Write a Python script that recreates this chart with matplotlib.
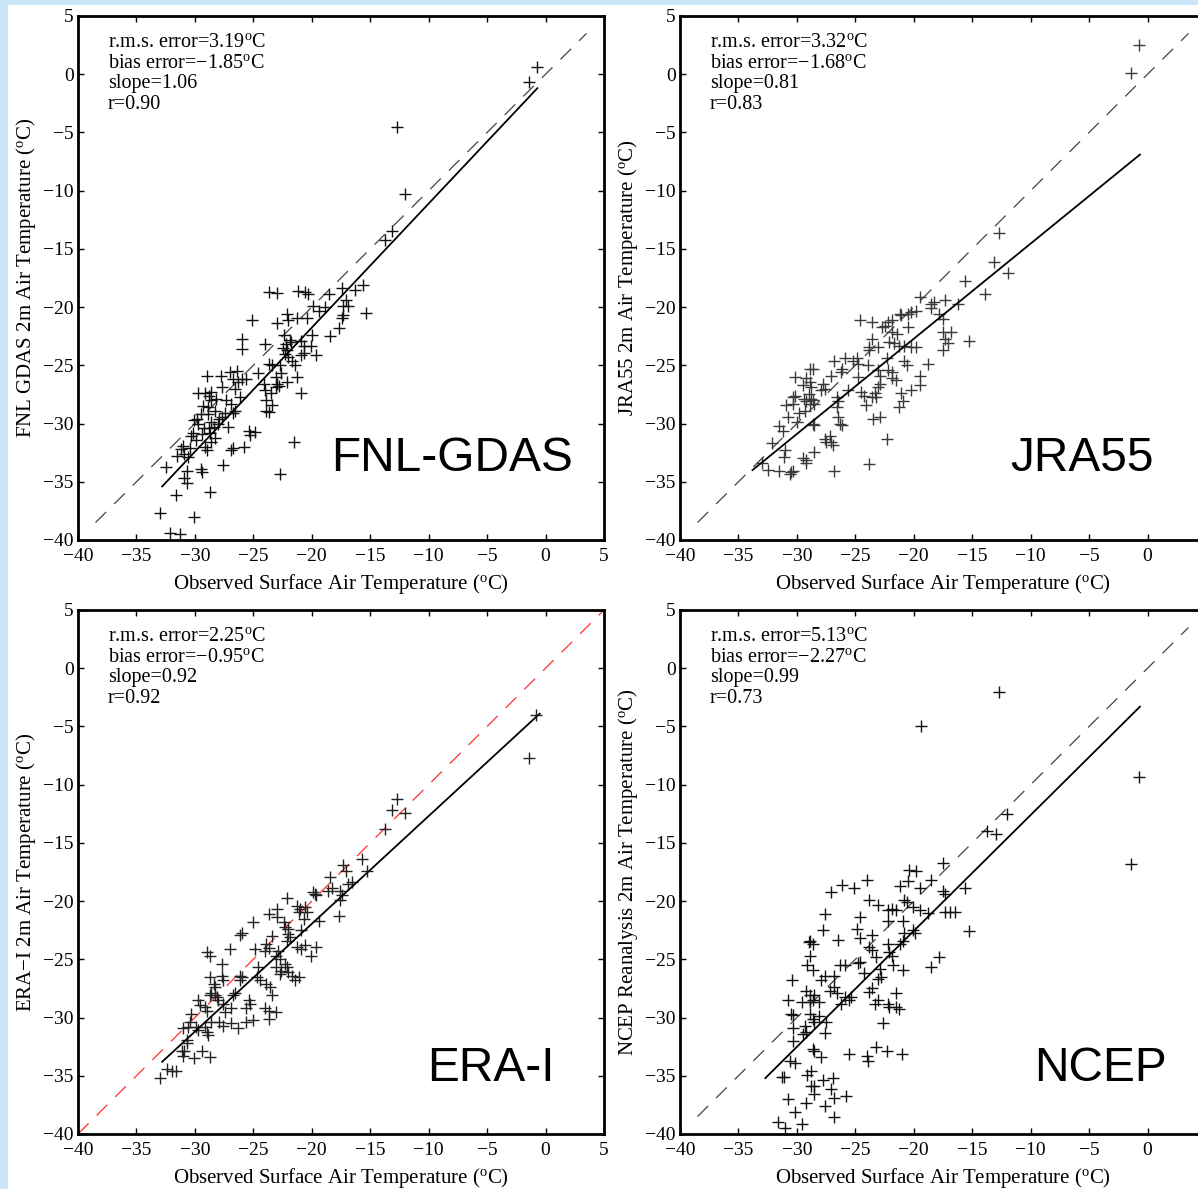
import numpy as np
import matplotlib.pyplot as plt
from matplotlib.patches import Rectangle

plt.rcParams['font.family'] = ['Liberation Serif', 'DejaVu Serif']
plt.rcParams['mathtext.fontset'] = 'custom'
plt.rcParams['mathtext.rm'] = 'Liberation Serif'
plt.rcParams['mathtext.it'] = 'Liberation Serif:italic'

fnl_obs = [-33.0, -32.1, -31.3, -31.6, -30.1, -28.7, -32.5, -30.7, -29.5, -29.4, -30.9, -30.7, -27.6,
           -31.0, -30.4, -30.3, -30.9, -30.1, -29.7, -29.4, -29.1, -29.0, -28.6, -28.7, -28.3, -28.6,
           -28.9, -29.0, -29.7, -29.1, -28.6, -28.6, -28.9, -28.3, -27.8, -27.0, -27.7, -26.7, -26.3,
           -26.0, -25.6, -26.6, -26.1, -26.9, -26.6, -26.7, -27.4, -27.7, -28.0, -27.2, -26.0, -26.0,
           -25.1, -25.4, -25.3, -24.9, -25.8, -26.9, -26.7, -24.6, -24.0, -23.7, -23.0, -23.0, -23.7,
           -23.4, -24.1, -24.0, -23.9, -23.9, -23.7, -23.4, -23.1, -23.0, -23.1, -22.7, -22.6, -22.4,
           -22.3, -22.1, -22.0, -21.7, -22.1, -22.1, -22.0, -21.4, -21.3, -20.9, -21.5, -22.7, -21.2,
           -20.6, -20.3, -21.3, -20.4, -20.9, -20.7, -20.7, -20.9, -20.0, -20.1, -19.6, -19.9, -19.4,
           -18.9, -18.5, -18.4, -17.7, -17.4, -17.1, -17.3, -17.3, -17.4, -16.9, -16.3, -15.6, -15.4,
           -13.7, -13.1, -12.0, -12.7, -1.4, -0.7,
           -29.8, -29.2, -28.8, -28.4, -27.9, -29.3, -28.8, -27.3, -26.4, -22.5, -22.2, -21.9, -22.8,
           -23.5, -21.8, -30.6, -30.2, -29.9, -29.5, -28.2, -31.2, -31.5]
fnl_mod = [-37.7, -39.4, -39.5, -36.1, -38.0, -35.9, -33.7, -34.1, -33.9, -34.2, -34.7, -35.1, -33.6,
           -31.9, -32.1, -31.1, -32.6, -29.7, -30.0, -30.9, -32.0, -32.3, -31.6, -30.8, -31.2, -29.9,
           -29.2, -25.9, -27.4, -27.4, -27.3, -28.0, -28.6, -28.9, -25.9, -25.6, -26.9, -26.2, -26.4,
           -26.2, -26.2, -27.0, -27.7, -28.3, -28.9, -29.1, -29.1, -29.4, -30.0, -30.3, -22.7, -23.6,
           -21.1, -30.6, -31.0, -30.7, -32.0, -32.3, -32.1, -25.7, -23.2, -18.7, -18.8, -21.4, -24.9,
           -25.0, -26.6, -27.1, -28.0, -28.9, -29.0, -28.4, -26.0, -26.6, -26.9, -25.0, -25.7, -22.4,
           -24.0, -23.7, -24.3, -24.6, -26.4, -20.6, -21.1, -25.0, -26.0, -27.4, -31.6, -34.3, -18.6,
           -18.7, -18.9, -20.9, -20.9, -22.9, -23.3, -23.9, -24.1, -22.4, -23.3, -24.1, -19.9, -20.3,
           -20.0, -18.9, -22.5, -21.8, -18.4, -19.4, -19.9, -20.7, -20.9, -19.9, -18.5, -18.1, -20.5,
           -14.2, -13.5, -10.3, -4.5, -0.7, 0.6,
           -29.6, -30.4, -30.4, -30.3, -29.6, -28.5, -27.6, -28.0, -25.5, -23.5, -23.2, -22.8, -26.8,
           -27.4, -23.0, -32.9, -30.8, -31.4, -29.2, -27.9, -32.2, -32.8]

jra_obs = [-33.0, -32.5, -31.5, -30.6, -30.5, -30.3, -32.1, -31.2, -30.8, -31.0, -31.1, -30.2, -30.2,
           -30.3, -30.9, -30.3, -29.8, -29.3, -29.5, -29.2, -28.9, -28.6, -28.9, -28.8, -29.5, -29.2,
           -29.2, -28.5, -28.6, -28.5, -28.8, -28.6, -28.5, -28.9, -29.2, -27.6, -27.5, -27.2, -27.1,
           -26.9, -26.8, -27.8, -27.6, -27.9, -27.1, -26.8, -25.9, -26.1, -26.2, -26.6, -26.5, -26.6,
           -26.5, -26.3, -26.1, -25.6, -25.2, -24.9, -24.8, -24.8, -24.5, -24.3, -24.6, -23.6, -23.8,
           -23.8, -23.9, -23.6, -23.1, -24.1, -23.6, -23.3, -23.2, -23.5, -22.9, -23.8, -22.3, -23.1,
           -22.9, -23.1, -22.9, -22.7, -22.5, -22.2, -21.9, -22.3, -22.2, -21.9, -21.9, -21.9, -21.4,
           -22.1, -21.7, -21.3, -21.5, -21.3, -21.1, -20.9, -21.2, -21.1, -20.5, -20.2, -19.8, -20.5,
           -20.8, -20.2, -19.8, -20.8, -20.6, -20.2, -19.5, -19.5, -18.8, -19.5, -18.5, -18.3, -18.5,
           -17.3, -17.8, -17.5, -17.5, -17.3, -17.1, -17.5, -16.8, -16.2, -15.6, -15.3, -13.9, -13.1,
           -11.9, -12.7, -1.4, -0.7, -29.4, -29.0, -30.0, -31.5]
jra_mod = [-33.4, -34.0, -34.1, -34.3, -34.2, -34.1, -31.7, -30.6, -29.4, -32.3, -32.9, -26.0, -27.6,
           -27.7, -28.4, -28.3, -29.1, -28.9, -26.7, -26.1, -25.3, -25.3, -26.4, -26.9, -33.0, -33.1,
           -33.4, -32.4, -30.0, -30.1, -27.9, -28.0, -28.3, -28.3, -28.1, -31.3, -31.6, -31.1, -31.6,
           -31.8, -34.1, -26.6, -27.0, -27.1, -25.9, -24.6, -24.4, -25.3, -25.6, -27.7, -28.1, -28.6,
           -29.4, -30.0, -30.1, -27.1, -24.6, -24.4, -24.9, -26.0, -27.3, -27.6, -21.1, -21.3, -23.4,
           -23.7, -25.0, -22.7, -23.4, -28.4, -27.7, -27.4, -27.7, -29.6, -29.4, -33.5, -31.3, -26.9,
           -26.6, -25.4, -25.9, -21.7, -21.6, -21.3, -21.1, -24.4, -25.4, -25.6, -26.1, -22.1, -22.3,
           -23.0, -23.1, -23.3, -26.3, -28.6, -27.4, -28.1, -20.6, -20.7, -20.6, -20.4, -20.3, -21.7,
           -23.3, -23.4, -23.4, -24.6, -25.0, -27.1, -26.7, -25.9, -24.9, -19.1, -19.7, -19.6, -20.1,
           -19.4, -20.6, -21.0, -22.1, -22.7, -23.1, -23.7, -22.1, -19.7, -17.8, -22.9, -18.9, -16.1,
           -17.1, -13.6, 0.1, 2.5, -27.9, -27.5, -29.9, -30.2]

era_obs = [-33.0, -32.4, -32.0, -31.6, -31.1, -31.0, -30.9, -30.1, -29.4, -28.7, -30.7, -30.7, -31.0,
           -30.6, -30.4, -30.3, -29.9, -29.7, -29.1, -29.0, -28.9, -28.6, -27.9, -27.6, -26.9, -26.3,
           -29.7, -29.6, -29.1, -29.0, -28.7, -28.6, -28.3, -28.1, -28.7, -28.4, -28.3, -29.0, -28.7,
           -27.7, -27.7, -27.6, -28.0, -27.6, -27.4, -26.9, -26.7, -26.6, -27.0, -26.1, -26.0, -26.1,
           -26.0, -26.1, -25.4, -25.3, -25.6, -25.6, -25.0, -25.0, -24.9, -24.6, -24.7, -24.4, -24.0,
           -23.7, -23.9, -23.7, -23.0, -23.0, -23.4, -23.9, -23.6, -23.4, -24.0, -23.7, -23.7, -23.1,
           -23.1, -22.9, -22.7, -23.1, -22.6, -22.7, -22.4, -22.3, -22.0, -22.0, -21.9, -22.1, -22.3,
           -22.1, -22.0, -21.7, -21.4, -21.1, -22.1, -21.3, -21.0, -21.1, -20.7, -20.6, -20.4, -21.3,
           -20.9, -20.6, -20.9, -19.9, -19.7, -19.6, -19.4, -20.1, -19.6, -18.4, -18.6, -18.3, -17.7,
           -17.6, -17.4, -17.6, -17.3, -17.1, -16.9, -16.6, -15.7, -15.3, -13.7, -13.1, -12.0, -12.7,
           -1.4, -0.8]
era_mod = [-35.2, -34.4, -34.6, -34.6, -32.9, -33.3, -32.9, -33.5, -32.9, -33.4, -31.9, -32.2, -30.9,
           -30.8, -30.4, -29.7, -30.8, -31.1, -30.8, -31.2, -31.5, -30.4, -30.4, -30.7, -30.5, -30.9,
           -28.5, -28.9, -29.1, -29.4, -28.1, -27.9, -28.1, -28.2, -26.5, -27.1, -27.4, -24.4, -24.7,
           -25.4, -26.4, -26.8, -28.5, -28.8, -29.5, -29.2, -28.1, -27.9, -24.1, -22.9, -22.7, -26.4,
           -26.5, -26.8, -28.5, -28.8, -29.2, -30.4, -30.2, -21.8, -24.1, -25.7, -26.5, -26.8, -24.3,
           -24.0, -23.7, -21.1, -20.7, -21.4, -23.0, -27.1, -27.4, -28.1, -29.2, -29.4, -30.1, -29.5,
           -24.7, -24.3, -25.0, -25.7, -26.0, -26.3, -21.8, -22.2, -22.4, -22.8, -23.1, -23.4, -25.4,
           -25.7, -26.1, -26.4, -26.8, -26.5, -19.7, -20.4, -20.7, -20.9, -21.5, -20.5, -20.9, -23.9,
           -24.1, -23.8, -22.5, -19.2, -19.4, -19.5, -21.7, -24.7, -23.9, -17.9, -19.1, -18.9, -21.3,
           -19.1, -19.5, -19.9, -16.9, -17.4, -18.5, -18.4, -16.4, -17.4, -13.8, -12.2, -12.4, -11.2,
           -7.7, -4.0]

ncep_obs = [-31.6, -31.0, -29.6, -30.2, -30.8, -29.2, -27.6, -26.8, -25.8, -26.8, -28.5, -29.1, -28.8,
            -28.8, -28.5, -27.8, -26.9, -27.1, -31.3, -31.1, -30.6, -30.2, -30.3, -29.5, -29.2, -28.6,
            -28.5, -27.9, -25.5, -24.0, -23.9, -23.2, -22.3, -21.0, -30.3, -30.5, -30.3, -30.8, -29.6,
            -28.9, -28.6, -28.5, -28.1, -28.9, -28.6, -28.1, -28.5, -27.5, -27.6, -29.3, -30.4, -29.2,
            -28.9, -27.9, -27.6, -26.8, -27.2, -26.8, -26.6, -26.2, -25.9, -25.5, -25.4, -29.1, -28.6,
            -29.0, -28.9, -28.9, -28.6, -27.8, -27.6, -26.5, -27.1, -26.1, -25.1, -24.0, -26.3, -25.9,
            -24.8, -24.6, -24.3, -23.8, -23.6, -23.1, -24.6, -24.9, -24.6, -23.8, -23.6, -23.8, -23.6,
            -23.1, -23.2, -22.9, -22.8, -23.3, -23.1, -22.6, -22.2, -22.1, -21.5, -21.3, -21.5, -22.2,
            -21.9, -21.5, -22.2, -22.2, -21.9, -22.1, -21.8, -20.9, -21.2, -20.5, -20.4, -19.8, -20.8,
            -20.6, -20.1, -19.5, -20.9, -20.8, -20.9, -21.2, -20.1, -19.9, -19.5, -18.5, -18.8, -17.5,
            -17.5, -17.3, -17.3, -16.9, -16.5, -15.6, -15.3, -18.5, -17.8, -13.7, -13.0, -12.0, -12.7,
            -19.4, -0.7, -1.4]
ncep_mod = [-39.0, -39.5, -39.1, -38.1, -37.0, -37.3, -37.6, -38.5, -36.7, -36.9, -36.6, -34.9, -34.6,
            -35.9, -35.9, -35.4, -35.2, -36.1, -35.1, -35.1, -33.7, -33.9, -32.0, -31.4, -31.2, -32.7,
            -32.9, -33.4, -33.1, -33.3, -33.7, -32.5, -32.9, -33.1, -30.9, -29.7, -29.8, -28.5, -28.7,
            -28.7, -28.5, -28.1, -28.7, -29.7, -30.1, -29.9, -30.4, -30.4, -31.3, -30.7, -26.8, -27.7,
            -28.1, -26.8, -26.4, -26.4, -27.7, -27.4, -27.9, -28.8, -28.2, -28.5, -28.2, -25.5, -25.9,
            -23.5, -23.4, -24.7, -23.7, -22.5, -21.1, -23.3, -19.2, -18.6, -18.9, -18.2, -25.5, -25.5,
            -25.3, -25.2, -26.2, -27.8, -27.5, -26.7, -21.4, -22.4, -23.2, -19.9, -22.9, -23.9, -24.2,
            -20.3, -24.8, -25.8, -26.5, -28.8, -28.5, -30.5, -28.8, -29.1, -29.1, -29.3, -27.9, -20.8,
            -20.7, -20.8, -21.7, -23.7, -24.7, -24.4, -25.5, -25.9, -18.7, -18.3, -17.3, -17.4, -19.9,
            -20.1, -20.5, -20.8, -21.7, -22.7, -23.4, -23.7, -22.5, -22.7, -18.9, -18.2, -21.0, -16.7,
            -19.1, -19.4, -20.9, -20.9, -20.9, -18.9, -22.6, -25.7, -24.8, -14.0, -14.2, -12.5, -2.0,
            -5.0, -9.3, -16.8]

# rectas de regresion (extremos)
fnl_fit_x, fnl_fit_y = [-32.8, -0.7], [-35.4, -1.2]
jra_fit_x, jra_fit_y = [-33.8, -0.65], [-34.0, -6.9]
era_fit_x, era_fit_y = [-32.8, -0.5], [-33.8, -3.9]
ncep_fit_x, ncep_fit_y = [-32.7, -0.65], [-35.2, -3.3]

# estadisticos: rms, bias, slope, r
fnl_stats = ['3.19', '\u22121.85', '1.06', '0.90']
jra_stats = ['3.32', '\u22121.68', '0.81', '0.83']
era_stats = ['2.25', '\u22120.95', '0.92', '0.92']
ncep_stats = ['5.13', '\u22122.27', '0.99', '0.73']

ticks = [-40, -35, -30, -25, -20, -15, -10, -5, 0, 5]
tick_labels = ['\u221240', '\u221235', '\u221230', '\u221225', '\u221220', '\u221215',
               '\u221210', '\u22125', '0', '5']
deg = r'$^{\mathrm{o}}$'
xlabel = 'Observed Surface Air Temperature (' + deg + 'C)'


def dibujar_panel(ax, obs, mod, fit_x, fit_y, stats, ylabel, nombre,
                  color_puntos='#111111', color_diag='#444444', diag=(-38.5, 3.5),
                  ultimo_x=True):
    # linea 1:1
    ax.plot(list(diag), list(diag), color=color_diag, lw=0.9, dashes=(12, 9))
    # puntos
    ax.plot(obs, mod, '+', color=color_puntos, ms=8.5, mew=1.0)
    # recta de regresion
    ax.plot(fit_x, fit_y, color='black', lw=1.3)

    ax.set_xlim(-40, 5)
    ax.set_ylim(-40, 5)
    ax.set_xticks(ticks)
    ax.set_yticks(ticks)
    ax.set_yticklabels(tick_labels)
    if ultimo_x:
        ax.set_xticklabels(tick_labels)
    else:
        # el "5" queda fuera de la imagen en la columna derecha
        ax.set_xticklabels(tick_labels[:-1] + [''])
    ax.tick_params(direction='in', top=True, right=True, length=4, width=1,
                   labelsize=14, pad=3)
    ax.tick_params(axis='x', pad=6)
    for s in ax.spines.values():
        s.set_linewidth(2)

    ax.set_xlabel(xlabel, fontsize=15, labelpad=5)
    ax.set_ylabel(ylabel, fontsize=15, labelpad=4)

    lineas = ['r.m.s. error=' + stats[0] + deg + 'C',
              'bias error=' + stats[1] + deg + 'C',
              'slope=' + stats[2],
              'r=' + stats[3]]
    for k, t in enumerate(lineas):
        ax.text(0.057, 0.941 - k * 0.0395, t, transform=ax.transAxes,
                fontsize=14.5, va='baseline', ha='left')

    ax.text(nombre[1], nombre[2], nombre[0], transform=ax.transAxes,
            fontsize=34.5, family=['Liberation Sans', 'DejaVu Sans'],
            ha='center', va='center')


fig = plt.figure(figsize=(11.98, 11.89), dpi=100)
fig.patch.set_facecolor('white')
azul = '#cbe5f8'
fig.patches.append(Rectangle((0, 0), 8 / 1198, 1, transform=fig.transFigure,
                             facecolor=azul, edgecolor='none', zorder=-10))
fig.patches.append(Rectangle((0, 1 - 5 / 1189), 1, 5 / 1189, transform=fig.transFigure,
                             facecolor=azul, edgecolor='none', zorder=-10))

w, h = 526 / 1198, 524 / 1189
x_izq, x_der = 78 / 1198, 680 / 1198
y_arr, y_aba = 1 - 540 / 1189, 1 - 1134 / 1189

ax1 = fig.add_axes([x_izq, y_arr, w, h])
ax2 = fig.add_axes([x_der, y_arr, w, h])
ax3 = fig.add_axes([x_izq, y_aba, w, h])
ax4 = fig.add_axes([x_der, y_aba, w, h])

dibujar_panel(ax1, fnl_obs, fnl_mod, fnl_fit_x, fnl_fit_y, fnl_stats,
              'FNL GDAS 2m Air Temperature (' + deg + 'C)', ('FNL-GDAS', 0.711, 0.155))
dibujar_panel(ax2, jra_obs, jra_mod, jra_fit_x, jra_fit_y, jra_stats,
              'JRA55 2m Air Temperature (' + deg + 'C)', ('JRA55', 0.764, 0.155),
              color_puntos='#3a3a3a', ultimo_x=False)
dibujar_panel(ax3, era_obs, era_mod, era_fit_x, era_fit_y, era_stats,
              'ERA\u2212I 2m Air Temperature (' + deg + 'C)', ('ERA-I', 0.785, 0.125),
              color_puntos='#222222', color_diag='#ff3030', diag=(-40, 5))
dibujar_panel(ax4, ncep_obs, ncep_mod, ncep_fit_x, ncep_fit_y, ncep_stats,
              'NCEP Reanalysis 2m Air Temperature (' + deg + 'C)', ('NCEP', 0.80, 0.125),
              ultimo_x=False)

fig.savefig('out.png', dpi=100, facecolor=fig.get_facecolor())
